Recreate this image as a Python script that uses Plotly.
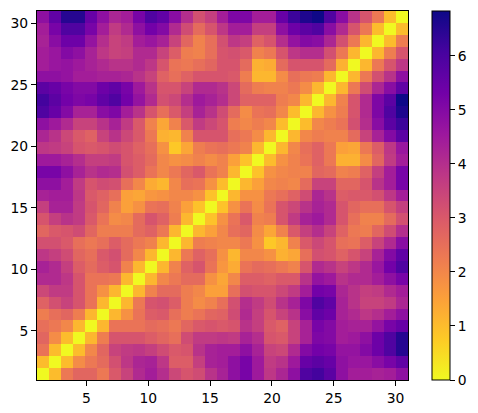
import numpy as np
import plotly.graph_objects as go

# rows 31 down to 16, columns 1..16
block_a = [
 [4.8,5.6,6.5,6.5,5.5,4.8,4.2,4.4,5.2,5.9,5.6,4.9,4.0,3.2,3.6,4.4],
 [4.4,5.2,5.9,5.9,5.2,4.4,3.7,4.1,4.8,5.3,5.0,4.1,3.3,2.6,3.1,3.8],
 [4.3,4.9,5.4,5.4,4.7,4.0,3.5,3.7,4.4,4.6,4.3,3.5,2.7,2.1,2.5,3.2],
 [4.4,4.6,5.0,4.8,4.3,3.8,3.5,3.6,4.1,4.1,3.5,2.9,2.2,2.1,2.5,3.1],
 [4.4,4.6,4.7,4.5,4.3,4.1,3.9,3.9,4.1,3.8,3.1,2.4,2.3,2.5,2.7,3.1],
 [4.8,4.8,4.7,4.4,4.4,4.3,4.3,4.2,3.9,3.5,2.8,2.5,2.8,3.1,3.1,3.1],
 [5.7,5.5,5.2,5.0,5.0,5.4,5.6,5.2,4.5,3.9,3.1,3.1,3.5,4.1,4.1,3.9],
 [6.1,5.7,5.3,5.1,5.2,5.6,5.9,5.3,4.7,4.1,3.2,3.4,4.0,4.5,4.3,4.0],
 [5.9,5.5,5.0,4.3,4.3,4.9,5.1,4.4,3.9,3.1,2.5,3.0,3.6,4.3,3.9,3.3],
 [4.8,4.5,4.1,3.5,3.5,3.9,4.3,3.7,3.0,2.1,1.4,2.1,3.0,3.7,3.4,3.1],
 [4.2,3.9,3.4,3.0,2.8,3.5,3.9,3.4,3.0,2.3,1.2,1.1,2.1,3.1,3.1,3.1],
 [3.8,3.7,3.5,3.1,3.0,3.1,3.3,3.1,2.8,2.5,1.8,0.8,1.4,2.2,2.4,2.5],
 [4.5,4.5,4.3,4.0,3.6,3.6,3.7,3.1,2.9,2.6,2.0,1.8,1.9,2.1,1.9,2.1],
 [5.2,5.2,4.8,4.3,3.9,4.1,4.0,3.2,2.9,2.4,2.0,2.3,2.7,3.0,2.4,2.1],
 [4.8,4.8,4.4,3.7,3.1,3.3,3.2,2.5,2.0,1.3,1.1,2.0,2.5,2.4,1.8,1.0],
 [4.3,4.4,4.4,3.8,3.0,2.8,2.5,1.5,1.4,1.7,1.8,2.0,2.0,1.8,0.9,0.0],
]
# rows 31 down to 16, columns 17..31
block_b = [
 [5.1,5.1,4.4,4.4,5.5,6.2,6.6,6.8,5.9,4.9,3.9,3.1,2.3,1.0,0.0],
 [4.4,4.4,3.6,3.6,4.8,5.4,5.7,5.9,4.9,4.1,3.1,2.3,1.0,0.0,1.0],
 [3.8,3.6,2.8,3.1,4.0,4.7,5.0,4.9,4.2,3.2,2.3,1.1,0.0,1.0,2.2],
 [3.2,3.0,2.1,2.3,3.1,3.8,4.0,4.0,3.2,2.3,1.1,0.0,1.1,2.2,3.1],
 [3.1,2.6,1.2,1.3,2.6,3.1,3.1,3.1,2.6,1.2,0.0,1.1,2.3,3.1,3.8],
 [3.0,2.2,1.1,1.1,1.9,2.5,2.3,2.2,1.1,0.0,1.1,2.3,3.2,3.9,4.8],
 [3.4,2.6,2.2,2.1,2.1,2.3,1.9,1.1,0.0,1.1,2.3,3.3,4.2,4.9,5.6],
 [3.4,2.8,2.8,2.8,2.2,2.0,1.1,0.0,1.1,2.1,3.1,4.1,5.1,5.7,6.8],
 [2.6,1.9,2.4,2.5,2.0,1.0,0.0,1.1,1.8,2.2,3.1,4.1,5.1,5.9,6.6],
 [2.2,2.0,2.2,2.0,1.0,0.0,1.0,2.0,2.2,2.4,3.2,4.0,4.9,5.7,6.2],
 [2.5,2.3,1.9,1.1,0.0,1.1,2.0,2.2,2.1,2.1,2.6,3.5,4.3,5.0,5.7],
 [2.3,2.1,1.1,0.0,1.1,2.0,2.5,2.8,2.3,1.5,1.4,2.3,2.9,3.8,4.6],
 [1.5,0.9,0.0,1.0,1.8,2.1,2.4,2.8,2.3,1.2,1.2,1.9,2.7,3.7,4.4],
 [1.1,0.0,0.9,1.8,2.0,2.1,2.1,2.7,2.6,2.1,2.2,2.8,3.6,4.4,5.2],
 [0.0,1.1,1.5,2.0,2.1,2.0,2.6,3.5,3.5,2.7,2.7,3.1,3.9,4.4,5.2],
 [1.1,1.8,1.8,2.3,2.5,2.8,3.3,4.2,3.9,2.9,3.0,3.0,3.2,3.8,4.4],
]
# rows 15 down to 1, columns 1..15
block_c = [
 [3.6,4.3,4.3,3.7,3.1,2.7,2.1,1.5,1.8,2.4,2.5,2.1,1.5,0.9,0.0],
 [3.1,3.6,3.9,3.7,3.0,2.4,1.9,2.0,2.6,3.1,2.8,2.2,1.1,0.0,0.9],
 [2.7,3.0,3.1,3.3,2.7,2.2,2.2,2.2,2.6,2.8,2.3,1.1,0.0,1.1,1.5],
 [3.2,3.2,3.0,2.5,2.3,2.5,2.9,2.6,2.3,2.1,1.1,0.0,1.1,2.2,2.1],
 [3.8,3.6,3.3,2.7,2.5,3.0,3.2,2.6,2.0,1.1,0.0,1.1,2.3,2.8,2.5],
 [4.3,4.1,3.6,2.9,2.6,2.9,3.1,2.1,1.1,0.0,1.1,2.1,2.8,3.1,2.4],
 [4.1,4.1,3.8,3.1,2.4,2.4,2.3,1.1,0.0,1.1,2.0,2.3,2.6,2.6,1.8],
 [3.4,3.7,3.7,3.1,2.4,1.8,1.1,0.0,1.1,2.1,2.6,2.6,2.2,2.0,1.5],
 [2.8,3.2,3.5,3.1,2.4,1.1,0.0,1.1,2.3,3.1,3.2,2.9,2.2,1.9,2.1],
 [2.2,2.5,2.7,2.2,1.1,0.0,1.1,1.8,2.4,2.9,3.0,2.5,2.2,2.4,2.7],
 [2.5,2.3,2.0,1.1,0.0,1.1,2.4,2.4,2.4,2.6,2.5,2.3,2.7,3.0,3.1],
 [2.7,1.9,1.0,0.0,1.1,2.2,3.1,3.1,3.1,2.9,2.7,2.5,3.3,3.7,3.7],
 [2.4,1.0,0.0,1.0,2.0,2.7,3.5,3.7,3.8,3.6,3.3,3.0,3.1,3.9,4.3],
 [1.0,0.0,1.0,1.9,2.3,2.6,3.2,3.8,4.2,4.3,3.8,2.9,2.9,3.6,4.3],
 [0.0,1.0,2.3,2.7,2.7,2.3,3.0,3.5,4.1,4.4,4.0,3.4,3.1,3.3,3.9],
]
color_stops = ["#f0f921","#fdca26","#fb9f3a","#ed7953","#d8576b",
               "#bd3786","#9c179e","#7201a8","#46039f","#0d0887"]
color_max = 6.83
tick_vals = [5, 10, 15, 20, 25, 30]
bar_ticks = [0, 1, 2, 3, 4, 5, 6]

upper = np.hstack([np.array(block_a), np.array(block_b)])       # rows 31..16
lower = np.zeros((15, 31))                                      # rows 1..15
lower[:, :15] = np.array(block_c)[::-1]
# bottom-right cells mirror the top-left block across the diagonal
mirror = np.array(block_a)[::-1]                                # rows 16..31
for r in range(15):
    for c in range(15, 31):
        lower[r, c] = mirror[c - 15, r]
z = np.vstack([lower, upper[::-1]])

fig = go.Figure(go.Heatmap(
    z=z,
    x0=1 + 15 / 31, dx=30 / 31,
    y0=1 + 15 / 31, dy=30 / 31,
    zmin=0, zmax=color_max,
    colorscale=[[i / (len(color_stops) - 1), col] for i, col in enumerate(color_stops)],
    colorbar=dict(
        x=1.0647, xanchor="left", xref="paper",
        y=0.5, yanchor="middle", len=1, lenmode="fraction",
        thickness=18, thicknessmode="pixels", xpad=0, ypad=0,
        outlinecolor="black", outlinewidth=1,
        tickmode="array", tickvals=bar_ticks,
        ticks="outside", ticklen=5, tickwidth=1, tickcolor="black",
        tickfont=dict(family="DejaVu Sans", size=13.9, color="black"),
    ),
))
axis = dict(
    range=[1, 31], tickmode="array", tickvals=tick_vals,
    ticks="outside", ticklen=5, tickwidth=1, tickcolor="black",
    showgrid=False, zeroline=False, showline=True, mirror=True,
    linecolor="black", linewidth=1,
    tickfont=dict(family="DejaVu Sans", size=13.9, color="black"),
)
fig.update_layout(
    width=470, height=405, autosize=False,
    margin=dict(l=29, r=70, t=3, b=33, pad=0),
    paper_bgcolor="white", plot_bgcolor="white",
    xaxis=axis, yaxis=axis,
)
fig.write_html("out.html")
